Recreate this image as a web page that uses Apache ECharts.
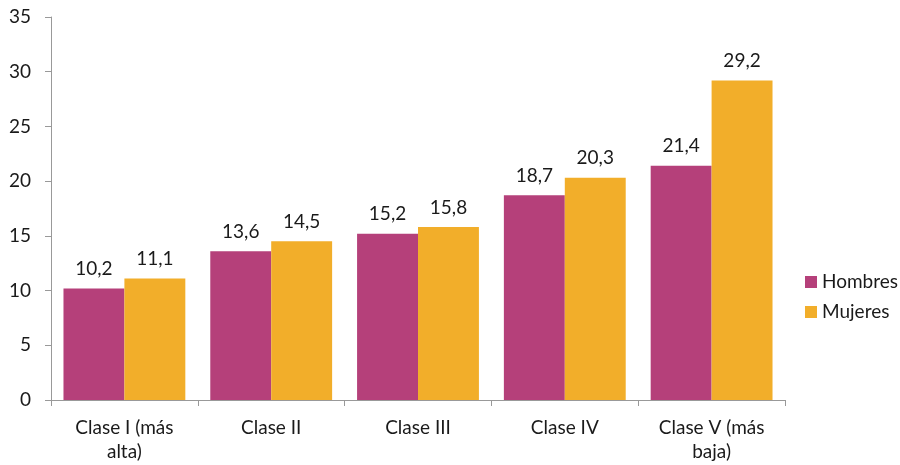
<!DOCTYPE html>
<html>
<head>
<meta charset="utf-8">
<script src="https://cdn.jsdelivr.net/npm/echarts@6/dist/echarts.min.js"></script>
<style>
html, body { margin: 0; padding: 0; background: #fff; }
#main { width: 900px; height: 465px; }
</style>
</head>
<body>
<div id="main"></div>
<script>
// categorias y valores
var categorias = ['Clase I (más\nalta)', 'Clase II', 'Clase III', 'Clase IV', 'Clase V (más\nbaja)'];
var hombres = [10.2, 13.6, 15.2, 18.7, 21.4];
var mujeres = [11.1, 14.5, 15.8, 20.3, 29.2];
var yTicks = [0, 5, 10, 15, 20, 25, 30, 35];

var fuente = 'Lato, "Open Sans", sans-serif';
var tam = 19;
var myChart = echarts.init(document.getElementById('main'));

function etiqueta(p) {
	return String(p.value).replace('.', ',');
}

var option = {
	animation: false,
	textStyle: { fontFamily: fuente },
	grid: { left: 51, right: 115, top: 17, bottom: 65, containLabel: false },
	legend: {
		orient: 'vertical',
		left: 800,
		top: 267,
		itemWidth: 12,
		itemHeight: 12,
		itemGap: 10,
		icon: 'rect',
		textStyle: { fontSize: tam, color: '#1a1a1a', fontFamily: fuente, lineHeight: 20 },
		data: ['Hombres', 'Mujeres']
	},
	xAxis: {
		type: 'category',
		data: categorias,
		axisLine: { lineStyle: { color: '#999', width: 1 } },
		axisTick: { show: true, alignWithLabel: false, length: 6, lineStyle: { color: '#999' } },
		axisLabel: { fontSize: tam, color: '#1a1a1a', margin: 16, lineHeight: 24, fontFamily: fuente }
	},
	yAxis: {
		type: 'value',
		min: yTicks[0],
		max: yTicks[yTicks.length - 1],
		interval: 5,
		axisLine: { show: true, lineStyle: { color: '#999', width: 1 } },
		axisTick: { show: true, length: 6, lineStyle: { color: '#999' } },
		splitLine: { show: false },
		axisLabel: { fontSize: tam, color: '#1a1a1a', margin: 20, fontFamily: fuente }
	},
	series: [{
		name: 'Hombres',
		type: 'bar',
		data: hombres,
		barGap: '0%',
		barCategoryGap: '17%',
		itemStyle: { color: '#B5407A' },
		label: { show: true, position: 'top', distance: 10, fontSize: tam, color: '#1a1a1a', formatter: etiqueta, fontFamily: fuente }
	}, {
		name: 'Mujeres',
		type: 'bar',
		data: mujeres,
		itemStyle: { color: '#F2AE2A' },
		label: { show: true, position: 'top', distance: 10, fontSize: tam, color: '#1a1a1a', formatter: etiqueta, fontFamily: fuente }
	}]
};
myChart.setOption(option);
</script>
</body>
</html>
